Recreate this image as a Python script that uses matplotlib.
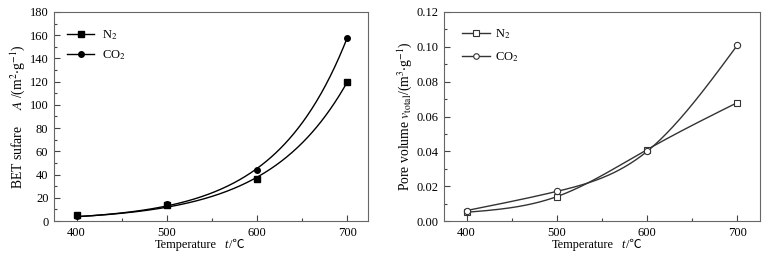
import numpy as np
import matplotlib
matplotlib.use('Agg')
import matplotlib.pyplot as plt
from matplotlib.lines import Line2D
from matplotlib.ticker import MultipleLocator, FormatStrFormatter

plt.rcParams['font.family'] = ['Liberation Serif', 'Noto Sans CJK SC']
plt.rcParams['mathtext.fontset'] = 'stix'
plt.rcParams['font.size'] = 9

temp = [400, 500, 600, 700]
bet_n2 = [5, 14, 36, 120]
bet_co2 = [4, 15, 44, 158]
vol_n2 = [0.005, 0.014, 0.041, 0.068]
vol_co2 = [0.006, 0.017, 0.040, 0.101]


def exp_fit(x, y, xs):
	# y = a*exp(b*(x-400)), least squares in linear space, grid over b
	x = np.asarray(x, float); y = np.asarray(y, float)
	best = None
	for b in np.linspace(0.001, 0.03, 3000):
		f = np.exp(b*(x-400))
		a = np.sum(y*f)/np.sum(f*f)
		err = np.sum((a*f - y)**2)
		if best is None or err < best[0]:
			best = (err, a, b)
	_, a, b = best
	return a*np.exp(b*(xs-400))


def nat_spline(x, y, xs):
	x = np.asarray(x, float); y = np.asarray(y, float)
	n = len(x)
	h = np.diff(x)
	M = np.zeros((n, n)); r = np.zeros(n)
	M[0, 0] = 1; M[-1, -1] = 1
	for i in range(1, n-1):
		M[i, i-1] = h[i-1]; M[i, i] = 2*(h[i-1]+h[i]); M[i, i+1] = h[i]
		r[i] = 6*((y[i+1]-y[i])/h[i] - (y[i]-y[i-1])/h[i-1])
	m = np.linalg.solve(M, r)
	out = np.zeros_like(xs)
	for k, xv in enumerate(xs):
		i = min(max(np.searchsorted(x, xv) - 1, 0), n-2)
		t1 = x[i+1]-xv; t0 = xv-x[i]
		out[k] = (m[i]*t1**3 + m[i+1]*t0**3)/(6*h[i]) + (y[i]/h[i] - m[i]*h[i]/6)*t1 + (y[i+1]/h[i] - m[i+1]*h[i]/6)*t0
	return out


xs = np.linspace(400, 700, 300)

W, H = 768, 257
fig = plt.figure(figsize=(W/100, H/100), dpi=100)
ax1 = fig.add_axes([54/W, 1-221/H, 314/W, 209/H])
ax2 = fig.add_axes([444/W, 1-221/H, 316/W, 209/H])

ax1.plot(xs, exp_fit(temp, bet_n2, xs), color='k', lw=1)
ax1.plot(xs, exp_fit(temp, bet_co2, xs), color='k', lw=1)
ax1.plot(temp, bet_n2, 's', color='k', ms=4.5, ls='none')
ax1.plot(temp, bet_co2, 'o', color='k', ms=4, ls='none')
h1 = [Line2D([], [], color='k', lw=1, marker='s', ms=4.5),
	  Line2D([], [], color='k', lw=1, marker='o', ms=4)]
ax1.legend(h1, ['N$_2$', 'CO$_2$'], loc='upper left', frameon=False,
		   handlelength=2.2, handletextpad=0.6, bbox_to_anchor=(0.005, 0.975), labelspacing=0.45)
ax1.set_xlim(375, 723)
ax1.set_ylim(0, 180)
ax1.yaxis.set_major_locator(MultipleLocator(20))
ax1.yaxis.set_minor_locator(MultipleLocator(10))
ax1.set_ylabel(r'BET sufare     $\mathit{A}$ /(m$^2$$\cdot$g$^{-1}$)', labelpad=2, fontsize=9.8)

gray = '#333333'
ax2.plot(xs, nat_spline(temp, vol_n2, xs), color=gray, lw=1)
ax2.plot(xs, nat_spline(temp, vol_co2, xs), color=gray, lw=1)
ax2.plot(temp, vol_n2, 's', mfc='white', mec=gray, mew=0.8, ms=4.5, ls='none')
ax2.plot(temp, vol_co2, 'o', mfc='white', mec=gray, mew=0.8, ms=4.5, ls='none')
h2 = [Line2D([], [], color=gray, lw=1, marker='s', mfc='white', mec=gray, mew=0.8, ms=4),
	  Line2D([], [], color=gray, lw=1, marker='o', mfc='white', mec=gray, mew=0.8, ms=4)]
ax2.legend(h2, ['N$_2$', 'CO$_2$'], loc='upper left', frameon=False,
		   handlelength=2.3, handletextpad=0.35, bbox_to_anchor=(0.02, 0.98), labelspacing=0.7)
ax2.set_xlim(375, 725)
ax2.set_ylim(0, 0.12)
ax2.yaxis.set_major_locator(MultipleLocator(0.02))
ax2.yaxis.set_minor_locator(MultipleLocator(0.01))
ax2.yaxis.set_major_formatter(FormatStrFormatter('%.2f'))
ax2.set_ylabel(r'Pore volume $\mathit{v}_{\mathrm{total}}$/(m$^3$$\cdot$g$^{-1}$)', labelpad=2, fontsize=9.8)

for ax in (ax1, ax2):
	ax.xaxis.set_major_locator(MultipleLocator(100))
	ax.xaxis.set_minor_locator(MultipleLocator(50))
	ax.tick_params(which='both', direction='in', top=False, right=False, color='#444444',
				   labelsize=9, pad=4)
	ax.tick_params(which='major', length=4, width=0.8)
	ax.tick_params(which='minor', length=2, width=0.8)
	for s in ax.spines.values():
		s.set_color('#666666'); s.set_linewidth(0.8)

# x labels: "Temperature   t /℃" in pieces so the ℃ sign can use a fallback font
for x0, xt in ((155, 224), (552, 621)):
	fig.text(x0/W, 1-245/H, 'Temperature', ha='left', va='center', fontsize=8.8)
	fig.text(xt/W, 1-245/H, 't', ha='left', va='center', style='italic', fontsize=8.8)
	fig.text((xt+5)/W, 1-245/H, '/℃', ha='left', va='center', fontsize=8.8)

fig.savefig('out.png', dpi=100)
